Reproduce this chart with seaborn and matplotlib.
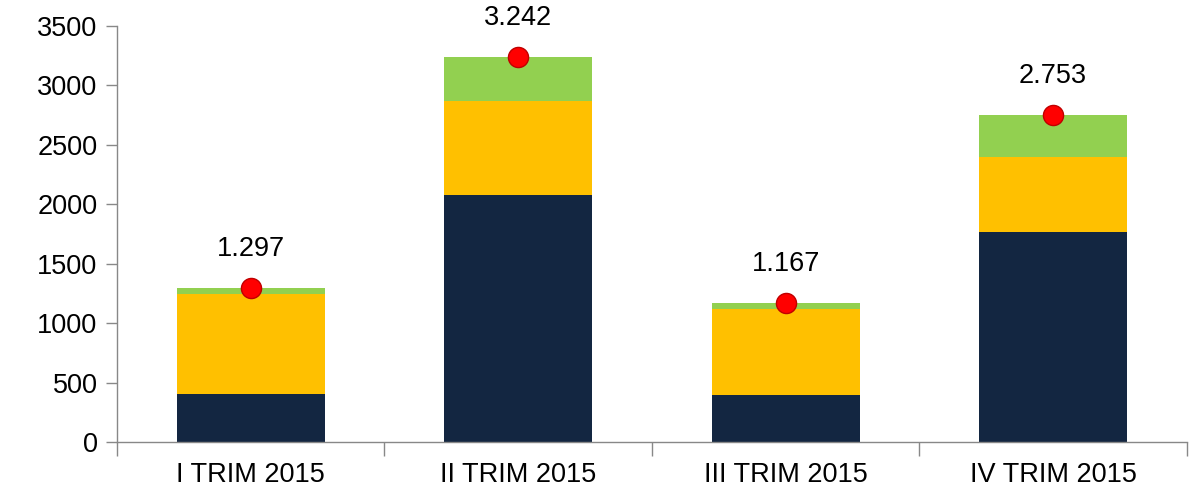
import pandas as pd
import matplotlib.pyplot as plt
import seaborn as sns

# -----------------------------
# Data
# -----------------------------
quarters = ["I TRIM 2015", "II TRIM 2015", "III TRIM 2015", "IV TRIM 2015"]
navy_vals = [407, 2080, 396, 1771]
yellow_vals = [842, 788, 721, 626]
green_vals = [48, 374, 50, 356]
totals = [1297, 3242, 1167, 2753]
total_labels = ["1.297", "3.242", "1.167", "2.753"]

df = pd.DataFrame({
    "quarter": quarters,
    "navy": navy_vals,
    "yellow": yellow_vals,
    "green": green_vals,
    "total": totals,
})
df["navy_top"] = df["navy"]
df["yellow_top"] = df["navy"] + df["yellow"]
df["green_top"] = df["yellow_top"] + df["green"]

# -----------------------------
# Plot
# -----------------------------
sns.set_style("white")
plt.rcParams["font.family"] = ["Liberation Sans", "DejaVu Sans"]
plt.rcParams["text.color"] = "black"
plt.rcParams["xtick.labelcolor"] = "black"
plt.rcParams["ytick.labelcolor"] = "black"

fig = plt.figure(figsize=(11.94, 4.99), dpi=100)
ax = fig.add_axes([0.098, 0.114, 0.896, 0.834])

bar_w = 0.553
# draw stacked segments back to front
for col, color in [("green_top", "#92D050"), ("yellow_top", "#FFC000"), ("navy_top", "#132641")]:
    sns.barplot(data=df, x="quarter", y=col, color=color, width=bar_w,
                saturation=1, linewidth=0, errorbar=None, ax=ax)

sns.scatterplot(data=df, x="quarter", y="total", color="#FF0000", s=210,
                edgecolor="#C00000", linewidth=1, zorder=5, ax=ax, legend=False)

for i, (tot, lab) in enumerate(zip(totals, total_labels)):
    ax.annotate(lab, (i, tot), xytext=(0, 28), textcoords="offset points",
                ha="center", va="center", fontsize=19.5, color="black")

ax.set_ylim(0, 3500)
ax.set_xlim(-0.5, 3.5)
ax.set_yticks(range(0, 3501, 500))
ax.set_xlabel("")
ax.set_ylabel("")

# category-boundary ticks on the x axis
ax.set_xticks([-0.5, 0.5, 1.5, 2.5, 3.5], minor=True)
ax.tick_params(axis="x", which="major", length=0, pad=14, labelsize=19.5)
ax.tick_params(axis="x", which="minor", length=10, width=1, color="#888888", direction="out")
ax.tick_params(axis="y", which="major", length=8, width=1, color="#888888",
               direction="out", labelsize=19.5, pad=6)
ax.xaxis.set_ticks_position("bottom")
ax.yaxis.set_ticks_position("left")

for side in ["top", "right"]:
    ax.spines[side].set_visible(False)
for side in ["left", "bottom"]:
    ax.spines[side].set_color("#888888")
    ax.spines[side].set_linewidth(1)

fig.savefig("out.png", dpi=100)
